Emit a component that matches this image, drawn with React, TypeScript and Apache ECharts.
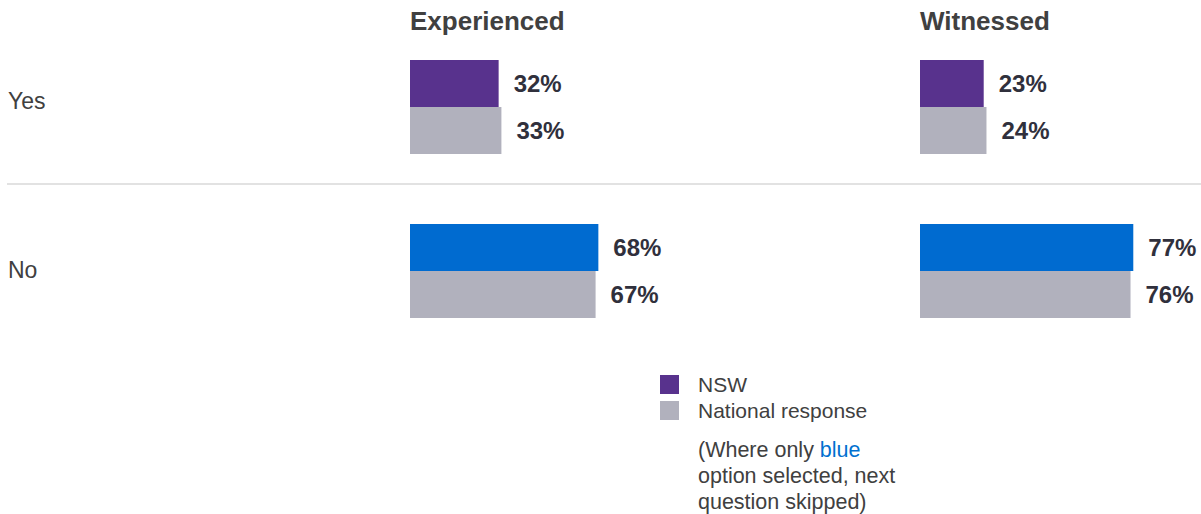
import React, { useEffect, useRef } from "react";
import * as echarts from "echarts";

const categories = ["Yes", "No"];
const panelTitles = ["Experienced", "Witnessed"];
const nswExperienced = [32, 68];
const nationalExperienced = [33, 67];
const nswWitnessed = [23, 77];
const nationalWitnessed = [24, 76];
const seriesNames = ["NSW", "National response"];
const nswColors = ["#58328d", "#006bd0"];
const nationalColor = "#b1b1bd";

const FONT = "'Liberation Sans', Arial, Helvetica, sans-serif";

export default function App() {
  const ref = useRef<HTMLDivElement>(null);

  useEffect(() => {
    if (!ref.current) return;
    const chart = echarts.init(ref.current, undefined, { renderer: "svg" });

    const gridLefts = [410, 920];
    const nswData = [nswExperienced, nswWitnessed];
    const natData = [nationalExperienced, nationalWitnessed];

    const grids = gridLefts.map((left) => ({
      left,
      width: 277,
      top: 25,
      height: 328,
      containLabel: false,
    }));

    const xAxes = gridLefts.map((_, i) => ({
      type: "value",
      gridIndex: i,
      min: 0,
      max: 100,
      show: false,
    }));

    const yAxes = gridLefts.map((_, i) => ({
      type: "category",
      gridIndex: i,
      data: categories,
      inverse: true,
      axisLine: { show: false },
      axisTick: { show: false },
      splitLine: { show: false },
      axisLabel: {
        show: i === 0,
        align: "left",
        margin: 402,
        fontSize: 23,
        color: "#404040",
        fontFamily: FONT,
        formatter: (v: string) => (v === categories[0] ? `{a|${v}}` : `{b|${v}}`),
        rich: {
          a: { fontSize: 23, color: "#404040", fontFamily: FONT, padding: [0, 0, 13, 0] },
          b: { fontSize: 23, color: "#404040", fontFamily: FONT, padding: [0, 0, 3, 0] },
        },
      },
    }));

    const label = {
      show: true,
      position: "right",
      distance: 15,
      formatter: "{c}%",
      fontSize: 24,
      fontWeight: "bold",
      color: "#30303c",
      fontFamily: FONT,
    };

    const series: any[] = [];
    gridLefts.forEach((_, i) => {
      series.push({
        name: seriesNames[0],
        type: "bar",
        xAxisIndex: i,
        yAxisIndex: i,
        barWidth: 47,
        barGap: "0%",
        itemStyle: { color: nswColors[0] },
        data: nswData[i].map((v, k) => ({ value: v, itemStyle: { color: nswColors[k] } })),
        label,
      });
      series.push({
        name: seriesNames[1],
        type: "bar",
        xAxisIndex: i,
        yAxisIndex: i,
        barWidth: 47,
        barGap: "0%",
        itemStyle: { color: nationalColor },
        data: natData[i],
        label,
      });
    });

    const option: any = {
      animation: false,
      textStyle: { fontFamily: FONT },
      grid: grids,
      xAxis: xAxes,
      yAxis: yAxes,
      series,
      legend: {
        orient: "vertical",
        left: 660,
        top: 374,
        padding: 0,
        itemWidth: 19,
        itemHeight: 19,
        itemGap: 5,
        icon: "rect",
        data: seriesNames,
        selectedMode: false,
        textStyle: {
          fontSize: 21,
          lineHeight: 19,
          color: "#404040",
          fontFamily: FONT,
          padding: [0, 0, 0, 14],
        },
      },
      graphic: [
        {
          type: "line",
          shape: { x1: 7, y1: 184, x2: 1201, y2: 184 },
          style: { stroke: "#d9d9d9", lineWidth: 1.5 },
        },
        ...panelTitles.map((t, i) => ({
          type: "text",
          x: gridLefts[i],
          y: 21,
          style: {
            text: t,
            fontSize: 26,
            fontWeight: "bold",
            fill: "#404040",
            fontFamily: FONT,
            verticalAlign: "middle",
            align: "left",
          },
        })),
        {
          type: "text",
          x: 698,
          y: 437,
          style: {
            text: "(Where only {b|blue}\noption selected, next\nquestion skipped)",
            fontSize: 21.5,
            lineHeight: 26,
            fill: "#404040",
            fontFamily: FONT,
            rich: {
              b: { fill: "#0070d0", fontSize: 21.5, fontFamily: FONT, lineHeight: 26 },
            },
          },
        },
      ],
    };

    chart.setOption(option);
    return () => chart.dispose();
  }, []);

  return (
    <div
      ref={ref}
      style={{ position: "absolute", left: 0, top: 0, width: 1201, height: 514 }}
    />
  );
}
